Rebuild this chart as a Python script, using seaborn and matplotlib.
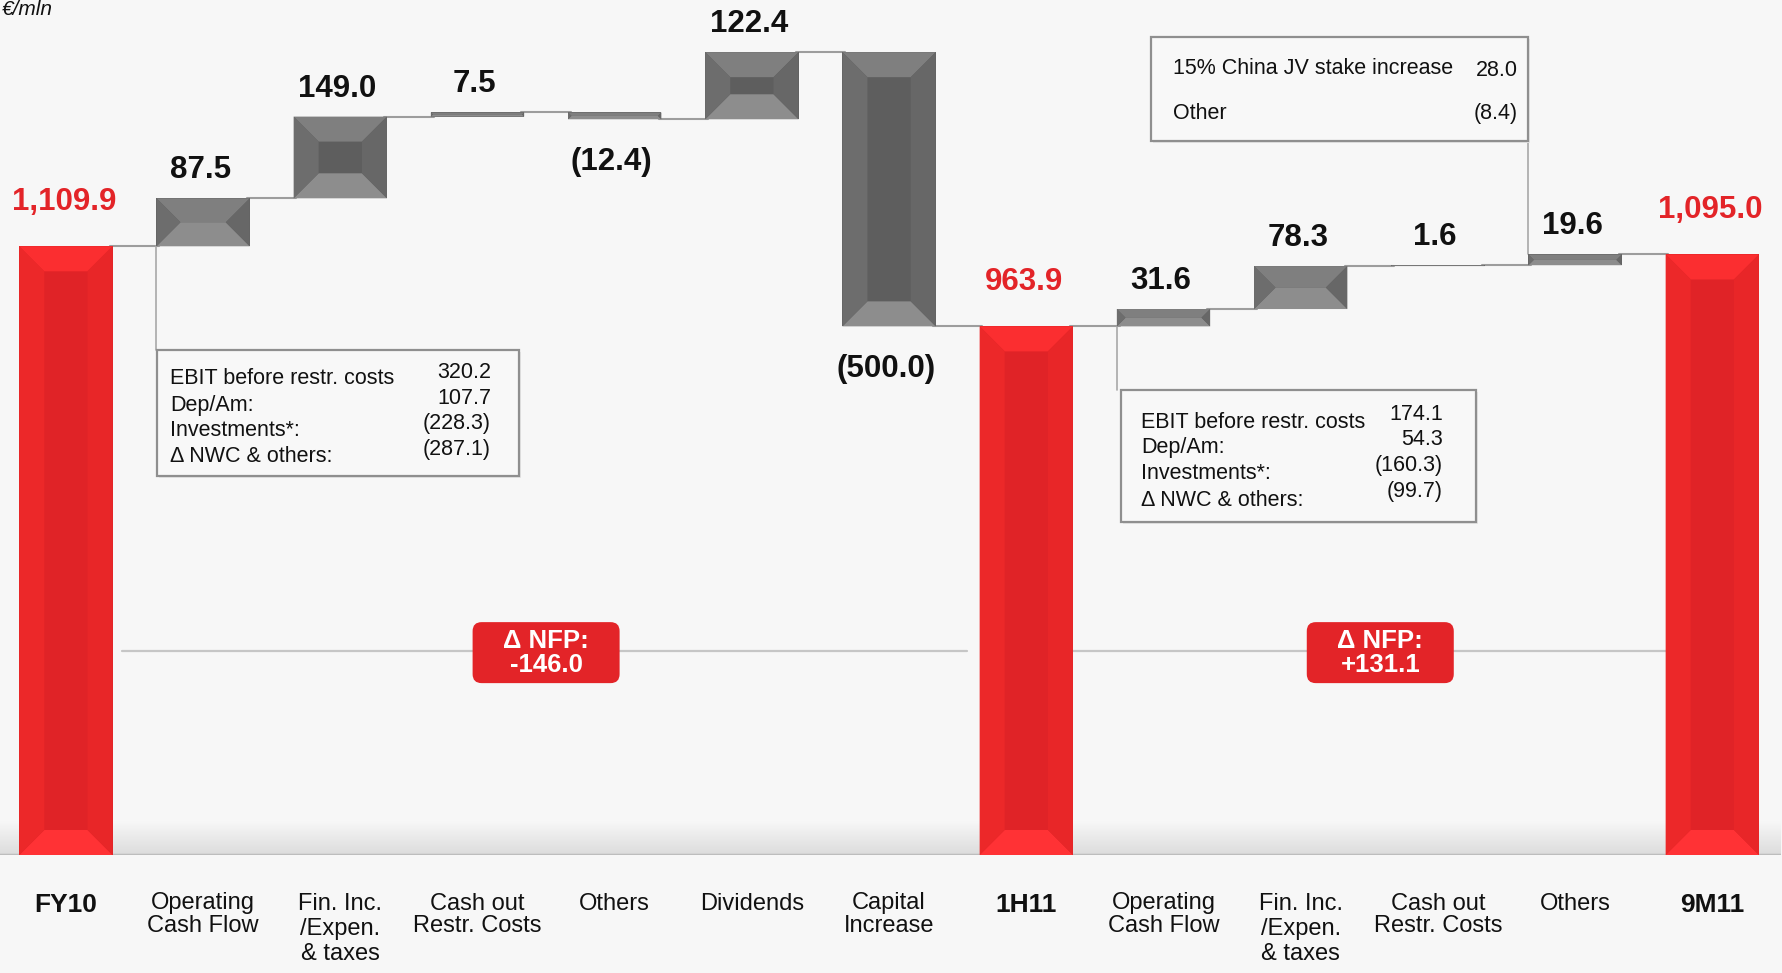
import numpy as np
import pandas as pd
import matplotlib
matplotlib.use("Agg")
import matplotlib.pyplot as plt
import matplotlib.transforms as mtransforms
from matplotlib.patches import Polygon, Rectangle, FancyBboxPatch
from matplotlib.colors import LinearSegmentedColormap
import seaborn as sns

# ---------------- data ----------------
categories = ["FY10", "Operating\nCash Flow", "Fin. Inc.\n/Expen.\n& taxes",
              "Cash out\nRestr. Costs", "Others", "Dividends", "Capital\nIncrease",
              "1H11", "Operating\nCash Flow", "Fin. Inc.\n/Expen.\n& taxes",
              "Cash out\nRestr. Costs", "Others", "9M11"]
kinds = ["total", "delta", "delta", "delta", "delta", "delta", "delta",
         "total", "delta", "delta", "delta", "delta", "total"]
values = [1109.9, 87.5, 149.0, 7.5, -12.4, 122.4, -500.0,
          963.9, 31.6, 78.3, 1.6, 19.6, 1095.0]
value_labels = ["1,109.9", "87.5", "149.0", "7.5", "(12.4)", "122.4", "(500.0)",
                "963.9", "31.6", "78.3", "1.6", "19.6", "1,095.0"]

box1_labels = ["EBIT before restr. costs", "Dep/Am:", "Investments*:", "\u0394 NWC & others:"]
box1_values = ["320.2", "107.7", "(228.3)", "(287.1)"]
box2_labels = ["EBIT before restr. costs", "Dep/Am:", "Investments*:", "\u0394 NWC & others:"]
box2_values = ["174.1", "54.3", "(160.3)", "(99.7)"]
box3_labels = ["15% China JV stake increase", "Other"]
box3_values = ["28.0", "(8.4)"]
nfp_labels = ["\u0394 NFP:\n-146.0", "\u0394 NFP:\n+131.1"]

# ---------------- waterfall geometry from data ----------------
bottoms, heights, levels = [], [], []
run = 0.0
for k, v in zip(kinds, values):
    if k == "total":
        run = v
        bottoms.append(0.0)
        heights.append(v)
    else:
        bottoms.append(min(run, run + v))
        heights.append(abs(v))
        run += v
    levels.append(run)

ids = [f"c{i}" for i in range(len(categories))]
df = pd.DataFrame({"id": ids, "height": heights, "kind": kinds})

RED = "#e02327"
GREY = "#5e5e5e"
BG = "#f7f7f7"
palette = {i: (RED if k == "total" else GREY) for i, k in zip(ids, kinds)}

sns.set_theme(style="white")
plt.rcParams["font.family"] = ["Liberation Sans", "DejaVu Sans"]

W, H, DPI = 17.82, 9.73, 100
fig = plt.figure(figsize=(W, H), dpi=DPI, facecolor=BG)
ax_bottom_px = 855
n_cat = len(ids)
slot_px = 137.2
ax_left_px = 65.9 - slot_px / 2
ax = fig.add_axes([ax_left_px / 1782, (973 - ax_bottom_px) / 973,
                   n_cat * slot_px / 1782, ax_bottom_px / 973])
ax.set_facecolor(BG)

BAR_W = 0.68
sns.barplot(data=df, x="id", y="height", hue="id", palette=palette, order=ids,
            hue_order=ids, legend=False, width=BAR_W, saturation=1, ax=ax,
            edgecolor="none", linewidth=0, zorder=3)

YMAX = 1559
ax.set_xlim(-0.5, n_cat - 0.5)
ax.set_ylim(0, YMAX)

bars = [p for p in ax.patches if isinstance(p, Rectangle)][:n_cat]
for p, b, h in zip(bars, bottoms, heights):
    p.set_y(b)
    p.set_height(h)

px_x = slot_px                   # px per category unit
px_y = ax_bottom_px / YMAX       # px per value unit

# bevel
bev_cols = {
    "total": dict(top="#fb2e30", bottom="#ff3235", left="#ec2829", right="#e82628"),
    "delta": dict(top="#7f7f7f", bottom="#8d8d8d", left="#6d6d6d", right="#676767"),
}
for p, k in zip(bars, kinds):
    x0, y0 = p.get_x(), p.get_y()
    w, h = p.get_width(), p.get_height()
    x1, y1 = x0 + w, y0 + h
    bpx = min(25, w * px_x / 2, h * px_y / 2)
    bx, by = bpx / px_x, bpx / px_y
    c = bev_cols[k]
    polys = {
        "top": [(x0, y1), (x1, y1), (x1 - bx, y1 - by), (x0 + bx, y1 - by)],
        "bottom": [(x0, y0), (x1, y0), (x1 - bx, y0 + by), (x0 + bx, y0 + by)],
        "left": [(x0, y0), (x0, y1), (x0 + bx, y1 - by), (x0 + bx, y0 + by)],
        "right": [(x1, y0), (x1, y1), (x1 - bx, y1 - by), (x1 - bx, y0 + by)],
    }
    for side, pts in polys.items():
        ax.add_patch(Polygon(pts, closed=True, facecolor=c[side], edgecolor="none", zorder=3.5))

# connectors between bars
for i in range(n_cat - 1):
    xa = bars[i].get_x() + bars[i].get_width()
    xb = bars[i + 1].get_x()
    ax.plot([xa - 0.02, xb + 0.02], [levels[i], levels[i]], color="#9d9d9d", lw=1.5, zorder=2)

# value labels
for i, (k, v, lab) in enumerate(zip(kinds, values, value_labels)):
    top = bottoms[i] + heights[i]
    if k == "total":
        ax.annotate(lab, (i, top), xytext=(-2, 44), textcoords="offset pixels",
                    ha="center", va="center", fontsize=22.5, fontweight="bold", color="#e32428")
    elif v >= 0:
        ax.annotate(lab, (i, top), xytext=(-3, 28), textcoords="offset pixels",
                    ha="center", va="center", fontsize=22.5, fontweight="bold", color="#111111")
    else:
        ax.annotate(lab, (i, bottoms[i]), xytext=(-3, -43), textcoords="offset pixels",
                    ha="center", va="center", fontsize=22.5, fontweight="bold", color="#111111")

# baseline shadow
grad = np.linspace(0, 1, 50).reshape(-1, 1)
cm = LinearSegmentedColormap.from_list("sh", ["#dcdcdc", BG])
ax.imshow(grad, extent=[-0.5, n_cat - 0.5, 0, 34 / px_y], origin="lower",
          cmap=cm, aspect="auto", zorder=0.5)
ax.axhline(0, color="#bdbdbd", lw=2.5, zorder=1)
ax.set_xlim(-0.5, n_cat - 0.5)
ax.set_ylim(0, YMAX)

# NFP lines and badges
total_idx = [i for i, k in enumerate(kinds) if k == "total"]
NFP_LEVEL = 372
for n, (a, b) in enumerate(zip(total_idx[:-1], total_idx[1:])):
    xa = bars[a].get_x() + bars[a].get_width() + (0.07 if n == 0 else 0)
    xb = bars[b].get_x() - (0.09 if n == 0 else 0)
    ax.plot([xa, xb], [NFP_LEVEL, NFP_LEVEL], color="#c6c6c6", lw=1.6, zorder=1)
nfp_x = [3.5, 9.58]
for xc, lab in zip(nfp_x, nfp_labels):
    tr = fig.dpi_scale_trans + mtransforms.ScaledTranslation(xc, NFP_LEVEL - 3, ax.transData)
    ax.add_patch(FancyBboxPatch((-0.735, -0.305), 1.47, 0.61,
                                boxstyle="round,pad=0,rounding_size=0.09",
                                facecolor="#e32428", edgecolor="none", transform=tr, zorder=5))
    ax.text(xc, NFP_LEVEL - 3, lab, ha="center", va="center", fontsize=18.5,
            fontweight="bold", color="white", linespacing=1.0, zorder=6)

# callout boxes
def callout(x0, x1, y0, y1):
    ax.add_patch(Rectangle((x0 + 2 / px_x, y0 - 2 / px_y), x1 - x0, y1 - y0,
                           facecolor="#e6e6e6", edgecolor="none", zorder=4))
    ax.add_patch(Rectangle((x0, y0), x1 - x0, y1 - y0, facecolor="#f8f8f8",
                           edgecolor="#8f8f8f", lw=1.6, zorder=4.2))

def cx(px):
    return (px - ax_left_px) / px_x - 0.5

def cy(py):
    return (ax_bottom_px - py) / px_y

TXT = 15.5
# box 1 (attached to first Operating Cash Flow bar)
b1 = bars[1]
callout(cx(157), cx(519), cy(476), cy(350))
ax.plot([b1.get_x(), b1.get_x()], [bottoms[1], cy(350)], color="#a8a8a8", lw=1.2, zorder=2)
for j, (l, v) in enumerate(zip(box1_labels, box1_values)):
    ax.text(cx(170), cy(379 + 26 * j), l, ha="left", va="center", fontsize=TXT, color="#111111", zorder=5)
    ax.text(cx(491), cy(373 + 25.5 * j), v, ha="right", va="center", fontsize=TXT, color="#111111", zorder=5)

# box 2
b8 = bars[8]
callout(cx(1121), cx(1476), cy(522), cy(390))
ax.plot([b8.get_x(), b8.get_x()], [bottoms[8], cy(390)], color="#a8a8a8", lw=1.2, zorder=2)
for j, (l, v) in enumerate(zip(box2_labels, box2_values)):
    ax.text(cx(1141), cy(422 + 26 * j), l, ha="left", va="center", fontsize=TXT, color="#111111", zorder=5)
    ax.text(cx(1443), cy(414 + 25.8 * j), v, ha="right", va="center", fontsize=TXT, color="#111111", zorder=5)

# box 3
b11 = bars[11]
callout(cx(1151), b11.get_x(), cy(141), cy(37))
ax.plot([b11.get_x(), b11.get_x()], [bottoms[11] + heights[11], cy(141)], color="#a8a8a8", lw=1.2, zorder=2)
for j, (l, v) in enumerate(zip(box3_labels, box3_values)):
    ax.text(cx(1173), cy(68 + 45.5 * j), l, ha="left", va="center", fontsize=TXT, color="#111111", zorder=5)
    ax.text(cx(1518), cy(70 + 43 * j), v, ha="right", va="center", fontsize=TXT, color="#111111", zorder=5)

# axes styling
for s in ax.spines.values():
    s.set_visible(False)
ax.set_yticks([])
ax.set_xlabel("")
ax.set_ylabel("")
ax.set_xticks(range(n_cat))
ax.set_xticklabels(categories)
ax.tick_params(axis="x", length=0, pad=27)
for t, k, lab in zip(ax.get_xticklabels(), kinds, categories):
    nlines = lab.count("\n") + 1
    t.set_linespacing(1.2 if nlines >= 3 else 1.05)
    t.set_va("top")
    t.set_color("#111111")
    if k == "total":
        t.set_fontweight("bold")
        t.set_fontsize(19)
    else:
        t.set_fontsize(17)

fig.text(0.001, 0.9995, "\u20ac/mln", ha="left", va="top", fontsize=15, style="italic", color="#111111")

fig.savefig("out.png", dpi=DPI, facecolor=BG)
